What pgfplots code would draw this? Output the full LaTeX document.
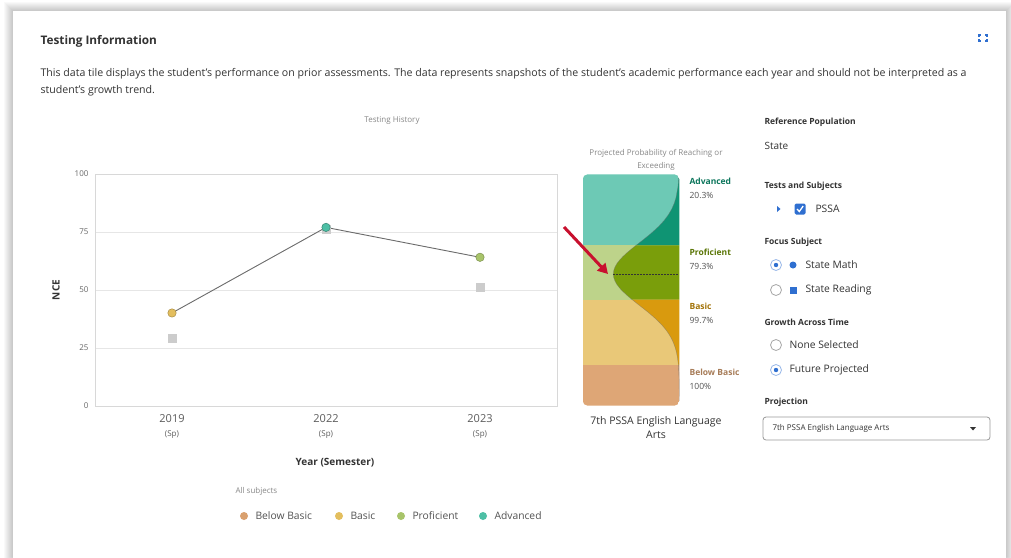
\documentclass[border=0pt]{standalone}
\usepackage{pgfplots}
\pgfplotsset{compat=1.18}
\usepackage{fontspec}
\setmainfont{Open Sans}
\usetikzlibrary{arrows.meta}
\definecolor{advL}{HTML}{6DC9B5}
\definecolor{advD}{HTML}{0F9473}
\definecolor{proL}{HTML}{BDD38A}
\definecolor{proD}{HTML}{7A9E0B}
\definecolor{basL}{HTML}{E9C878}
\definecolor{basD}{HTML}{D99A0E}
\definecolor{bbL}{HTML}{DEA676}
\definecolor{mBB}{HTML}{D9A06E}
\definecolor{mBas}{HTML}{E3BE5E}
\definecolor{mPro}{HTML}{A8C46A}
\definecolor{mAdv}{HTML}{4DBFA5}
\definecolor{gridc}{HTML}{E6E6E6}
\definecolor{framec}{HTML}{D8D8D8}
\definecolor{txt}{HTML}{333333}
\definecolor{tickc}{HTML}{666666}
\definecolor{lightc}{HTML}{888888}
\definecolor{blu}{HTML}{2F6FD0}
\definecolor{arrowred}{HTML}{C8102E}
\newcommand{\fs}[1]{\fontsize{#1}{#1}\selectfont}
\begin{document}
\begin{tikzpicture}[x=1pt,y=1pt]
\path[use as bounding box] (0,0) rectangle (1011,-557);
\fill[white] (0,0) rectangle (1011,-557);
\foreach \k in {1,...,9} {\fill[black,opacity=0.022] (13-\k,-11+\k) rectangle (1006+\k,-560);}
\fill[white] (13,-11) rectangle (1006,-560);
% header
\node[anchor=west, text=txt, font=\fs{11.8}\bfseries] at (37,-41) {Testing Information};
\node[anchor=west, text=txt, font=\fs{10.6}] at (37,-74) {This data tile displays the student's performance on prior assessments. The data represents snapshots of the student's academic performance each year and should not be interpreted as a};
\node[anchor=west, text=txt, font=\fs{10.6}] at (37,-91) {student's growth trend.};
% expand icon
\begin{scope}[draw=blu, line width=1.3pt]
\draw (979,-37) -- (979,-35) -- (981,-35);
\draw (985,-35) -- (987,-35) -- (987,-37);
\draw (979,-39) -- (979,-41) -- (981,-41);
\draw (985,-41) -- (987,-41) -- (987,-39);
\end{scope}
\node[text=lightc, font=\fs{8}] at (392,-121) {Testing History};
\node[rotate=90, text=txt, font=\fs{10}\bfseries] at (56,-290) {NCE};
% main chart
\begin{axis}[at={(95pt,-406pt)}, anchor=south west, scale only axis,
  width=462pt, height=232pt,
  xmin=-0.5, xmax=2.5, ymin=0, ymax=100,
  xtick={0,1,2},
  xticklabels={{2019\\[3pt]{\fs{8}(Sp)}},{2022\\[3pt]{\fs{8}(Sp)}},{2023\\[3pt]{\fs{8}(Sp)}}},
  ytick={0,25,50,75,100},
  ymajorgrids, grid style={draw=gridc, line width=0.9pt},
  axis line style={draw=framec, line width=0.9pt},
  major tick length=0pt,
  yticklabel style={font=\fs{8}, text=tickc, xshift=-3pt},
  xticklabel style={align=center, font=\fs{11}, text=tickc!90!black, yshift=-5pt},
  /pgf/number format/assume math mode=true,
  clip=false]
\addplot[only marks, mark=square*, mark size=3.8pt, color=black!20] coordinates {(0,29.2) (1,76.3) (2,51.2)};
\addplot[draw=black!58, line width=0.9pt, mark=none] coordinates {(0,40.1) (1,77.0) (2,64.1)};
\addplot[only marks, mark=*, mark size=4.2pt, mark options={fill=mBas, draw=mBas!75!black, line width=0.5pt}] coordinates {(0,40.1)};
\addplot[only marks, mark=*, mark size=4.2pt, mark options={fill=mAdv, draw=mAdv!70!black, line width=0.5pt}] coordinates {(1,77.0)};
\addplot[only marks, mark=*, mark size=4.2pt, mark options={fill=mPro, draw=mPro!75!black, line width=0.5pt}] coordinates {(2,64.1)};
\end{axis}
\node[text=txt, font=\fs{10}\bfseries] at (335,-463) {Year (Semester)};
% legend
\node[anchor=west, text=lightc, font=\fs{8}] at (232,-491) {All subjects};
\fill[mBB] (244,-516) circle (4);
\node[anchor=west, text=txt!85, font=\fs{10.3}] at (252,-516) {Below Basic};
\fill[mBas] (339,-516) circle (4);
\node[anchor=west, text=txt!85, font=\fs{10.3}] at (347,-516) {Basic};
\fill[mPro] (401,-516) circle (4);
\node[anchor=west, text=txt!85, font=\fs{10.3}] at (409,-516) {Proficient};
\fill[mAdv] (483,-516) circle (4);
\node[anchor=west, text=txt!85, font=\fs{10.3}] at (491,-516) {Advanced};
% projection bar
\node[text=lightc, font=\fs{8}, align=center] at (656,-159.5) {Projected Probability of Reaching or\\[5pt]Exceeding};
\begin{scope}
\clip[rounded corners=5pt] (582.7,-405.7) rectangle (679.3,-174.3);
\begin{axis}[at={(582.7pt,-405.7pt)}, anchor=south west, scale only axis,
  width=96.6pt, height=231.4pt, xmin=0, xmax=1, ymin=0, ymax=100, hide axis, clip=false]
\addplot[fill=advL, draw=none] coordinates {(0,69.3) (1,69.3) (1,100) (0,100)} -- cycle;
\addplot[fill=proL, draw=none] coordinates {(0,45.8) (1,45.8) (1,69.3) (0,69.3)} -- cycle;
\addplot[fill=basL, draw=none] coordinates {(0,17.4) (1,17.4) (1,45.8) (0,45.8)} -- cycle;
\addplot[fill=bbL, draw=none] coordinates {(0,0) (1,0) (1,17.4) (0,17.4)} -- cycle;
\addplot[fill=advD, draw=none] coordinates {(0.552,69.3) (0.5888,70.5) (0.6346,72) (0.6793,73.5) (0.722,75) (0.7868,77.5) (0.842,80) (0.8869,82.5) (0.9217,85) (0.9477,87.5) (0.9662,90) (0.9873,95) (0.9958,100) (1,100) (1,69.3)} -- cycle;
\addplot[fill=proD, draw=none] coordinates {(0.5129,45.8) (0.478,47) (0.4504,48) (0.4006,50) (0.3792,51) (0.3523,52.5) (0.3326,54) (0.3207,55.5) (0.317,56.9) (0.3218,58.5) (0.3347,60) (0.3555,61.5) (0.3832,63) (0.4171,64.5) (0.4558,66) (0.4982,67.5) (0.552,69.3) (1,69.3) (1,45.8)} -- cycle;
\addplot[fill=basD, draw=none] coordinates {(0.9906,17.4) (0.9867,19) (0.9801,21) (0.9734,22.5) (0.965,24) (0.9543,25.5) (0.9412,27) (0.9253,28.5) (0.9062,30) (0.8837,31.5) (0.8575,33) (0.8275,34.5) (0.7939,36) (0.7568,37.5) (0.7164,39) (0.6735,40.5) (0.6285,42) (0.5827,43.5) (0.5129,45.8) (1,45.8) (1,17.4)} -- cycle;
\addplot[fill=bbL!85!black, draw=none] coordinates {(1,0) (0.9984,10) (0.9956,14) (0.9906,17.4) (1,17.4)} -- cycle;
\addplot[draw=black!55, line width=0.4pt, opacity=0.6] coordinates {(1,0) (0.9984,10) (0.9956,14) (0.9906,17.4) (0.9867,19) (0.9801,21) (0.9734,22.5) (0.965,24) (0.9543,25.5) (0.9412,27) (0.9253,28.5) (0.9062,30) (0.8837,31.5) (0.8575,33) (0.8275,34.5) (0.7939,36) (0.7568,37.5) (0.7164,39) (0.6735,40.5) (0.6285,42) (0.5827,43.5) (0.5129,45.8) (0.478,47) (0.4504,48) (0.4006,50) (0.3792,51) (0.3523,52.5) (0.3326,54) (0.3207,55.5) (0.317,56.9) (0.3218,58.5) (0.3347,60) (0.3555,61.5) (0.3832,63) (0.4171,64.5) (0.4558,66) (0.4982,67.5) (0.552,69.3) (0.5888,70.5) (0.6346,72) (0.6793,73.5) (0.722,75) (0.7868,77.5) (0.842,80) (0.8869,82.5) (0.9217,85) (0.9477,87.5) (0.9662,90) (0.9873,95) (0.9958,100)};
\addplot[draw=black!80, dashed, dash pattern=on 1.5pt off 1.5pt, line width=0.6pt] coordinates {(0.317,56.9) (1,56.9)};
\end{axis}
\end{scope}
\draw[arrowred, line width=3pt, -{Triangle[length=10pt,width=11pt]}] (564,-227) -- (608,-274);
% bar labels
\node[anchor=west, text=advD!80!black, font=\fs{8.5}\bfseries] at (686,-181) {Advanced};
\node[anchor=west, text=txt!85, font=\fs{8.5}] at (686,-195) {20.3\%};
\node[anchor=west, text=proD!75!black, font=\fs{8.5}\bfseries] at (686,-252) {Proficient};
\node[anchor=west, text=txt!85, font=\fs{8.5}] at (686,-266) {79.3\%};
\node[anchor=west, text=basD!75!black, font=\fs{8.5}\bfseries] at (686,-306) {Basic};
\node[anchor=west, text=txt!85, font=\fs{8.5}] at (686,-320) {99.7\%};
\node[anchor=west, text=bbL!75!black, font=\fs{8.5}\bfseries] at (686,-372) {Below Basic};
\node[anchor=west, text=txt!85, font=\fs{8.5}] at (686,-386) {100\%};
\node[text=txt, font=\fs{10.5}, align=center] at (656,-427.5) {7th PSSA English Language\\[4pt]Arts};
% right panel
\node[anchor=west, text=txt, font=\fs{8.5}\bfseries] at (761,-122) {Reference Population};
\node[anchor=west, text=txt, font=\fs{10}] at (761,-146) {State};
\node[anchor=west, text=txt, font=\fs{8.5}\bfseries] at (761,-186) {Tests and Subjects};
\fill[blu] (777,-206) -- (780.5,-209) -- (777,-212) -- cycle;
\fill[blu, rounded corners=1.5pt] (794.5,-203.5) rectangle (805.5,-214.5);
\draw[white, line width=1.3pt] (797,-209) -- (799.3,-211.5) -- (803.2,-206);
\node[anchor=west, text=txt, font=\fs{10.3}] at (812,-209) {PSSA};
\node[anchor=west, text=txt, font=\fs{8.5}\bfseries] at (761,-242) {Focus Subject};
\draw[blu!50, line width=0.8pt] (776,-265) circle (5.5);
\fill[blu] (776,-265) circle (2.2);
\fill[blu] (793,-265) circle (3.5);
\node[anchor=west, text=txt, font=\fs{10.3}] at (802,-265) {State Math};
\draw[black!35, line width=0.8pt] (776,-290) circle (5.5);
\fill[blu] (789.5,-286.5) rectangle (796.5,-293.5);
\node[anchor=west, text=txt, font=\fs{10.3}] at (802,-290) {State Reading};
\node[anchor=west, text=txt, font=\fs{8.5}\bfseries] at (761,-322) {Growth Across Time};
\draw[black!35, line width=0.8pt] (776,-345) circle (5.5);
\node[anchor=west, text=txt, font=\fs{10.3}] at (786,-345) {None Selected};
\draw[blu!50, line width=0.8pt] (776,-370) circle (5.5);
\fill[blu] (776,-370) circle (2.2);
\node[anchor=west, text=txt, font=\fs{10.3}] at (786,-370) {Future Projected};
\node[anchor=west, text=txt, font=\fs{8.5}\bfseries] at (761,-402) {Projection};
\draw[black!40, line width=0.8pt, rounded corners=3pt] (763,-417) rectangle (990,-440);
\node[anchor=west, text=txt, font=\fs{8}] at (769,-428.5) {7th PSSA English Language Arts};
\fill[txt] (970,-427) -- (976,-427) -- (973,-430.5) -- cycle;
\end{tikzpicture}
\end{document}
